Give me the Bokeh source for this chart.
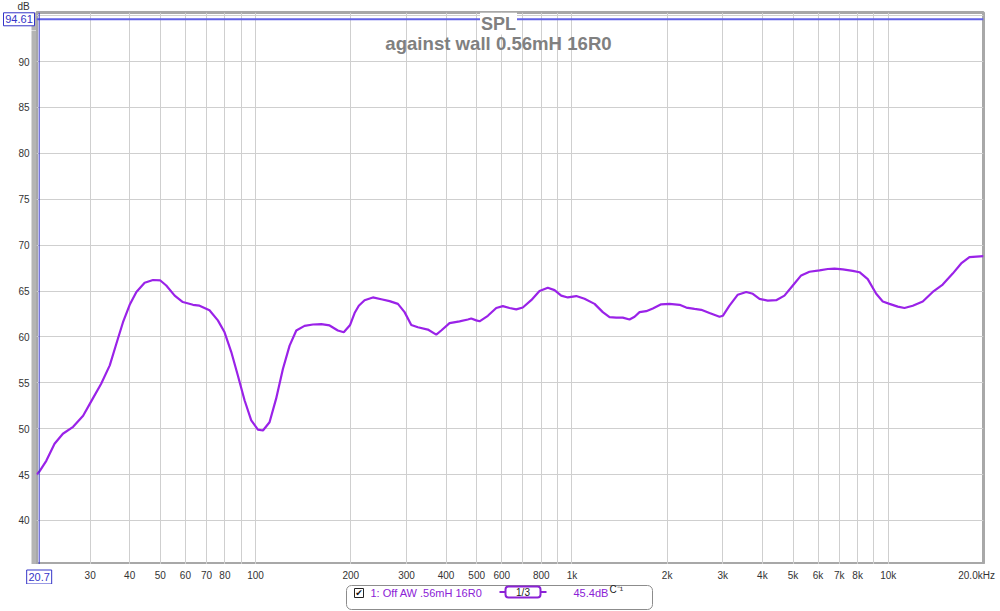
import math
from bokeh.plotting import figure
from bokeh.models import Range1d, FixedTicker, CustomJSTickFormatter, Span, Label, Grid
from bokeh.layouts import column, row
from bokeh.embed import file_html
from bokeh.resources import INLINE
from bokeh.core.properties import value

# ---------------- data ----------------
freq_hz = [20.3, 20.7, 21.8, 23.15, 24.6, 26.5, 28.5, 30.6, 32.5, 34.6, 36.3, 38.1,
           40.0, 42.0, 44.6, 47.4, 50.0, 52.2, 55.5, 58.9, 63.4, 66.5, 71.5, 76.0,
           79.8, 83.8, 87.9, 92.3, 96.9, 101.7, 105.5, 110.7, 116.2, 122.0, 128.1, 134.5,
           142.8, 151.8, 161.3, 171.4, 182.0, 190, 199, 205.6, 212, 221.1, 234.8, 249.6,
           265.2, 281.8, 295.8, 310.6, 325.9, 350.4, 372.5, 386.3, 410.4, 441.4, 468.8, 480.5,
           498.4, 510.5, 542.3, 576.5, 604.8, 635.0, 666.8, 699.5, 743.6, 789.9, 839.1, 881.0,
           925.1, 970.5, 1032, 1096, 1179, 1252, 1315, 1380, 1448, 1521, 1578, 1636,
           1717, 1802, 1915, 2034, 2189, 2298, 2441, 2563, 2722, 2928, 2999, 3148,
           3345, 3556, 3731, 3917, 4160, 4423, 4697, 4992, 5305, 5636, 6061, 6441,
           6761, 7181, 7723, 8110, 8613, 9159, 9608, 10087, 10715, 11251, 11952, 12853,
           13822, 14864, 15985, 16999, 18054, 20000]
spl_db = [45.0, 45.3, 46.5, 48.35, 49.45, 50.2, 51.4, 53.3, 54.9, 56.9, 59.25, 61.6,
          63.5, 64.9, 65.9, 66.2, 66.15, 65.6, 64.5, 63.8, 63.5, 63.4, 62.9, 61.8,
          60.5, 58.35, 55.8, 53.1, 50.9, 49.9, 49.8, 50.7, 53.3, 56.5, 59.05, 60.7,
          61.2, 61.35, 61.4, 61.25, 60.7, 60.5, 61.3, 62.6, 63.4, 64.0, 64.3, 64.1,
          63.9, 63.6, 62.7, 61.3, 61.05, 60.8, 60.25, 60.7, 61.5, 61.7, 61.9, 62.0,
          61.8, 61.7, 62.3, 63.15, 63.35, 63.15, 63.0, 63.2, 64.0, 65.0, 65.35, 65.1,
          64.5, 64.3, 64.45, 64.15, 63.6, 62.7, 62.15, 62.1, 62.1, 61.9, 62.2, 62.7,
          62.8, 63.1, 63.55, 63.6, 63.5, 63.2, 63.05, 62.95, 62.6, 62.2, 62.3, 63.4,
          64.6, 64.9, 64.7, 64.15, 63.95, 64.0, 64.5, 65.6, 66.7, 67.1, 67.25, 67.4,
          67.45, 67.35, 67.2, 67.05, 66.3, 64.7, 63.85, 63.6, 63.3, 63.15, 63.4, 63.85,
          64.9, 65.7, 66.9, 68.0, 68.7, 68.8]

x_label_ticks = [30, 40, 50, 60, 70, 80, 100, 200, 300, 400, 500, 600, 800,
                 1000, 2000, 3000, 4000, 5000, 6000, 7000, 8000, 10000, 20000]
x_grid_ticks = [30, 40, 50, 60, 70, 80, 90, 100, 200, 300, 400, 500, 600, 700, 800, 900,
                1000, 2000, 3000, 4000, 5000, 6000, 7000, 8000, 9000, 10000, 20000]
x_end_label = "20.0kHz"
y_label_ticks = [40, 45, 50, 55, 60, 65, 70, 75, 80, 85, 90]
y_grid_ticks = [35, 40, 45, 50, 55, 60, 65, 70, 75, 80, 85, 90, 95]
y_unit = "dB"

cursor_freq = 20.7
cursor_level = 94.61
cursor_freq_text = "20.7"
cursor_level_text = "94.61"

title_text = "SPL"
subtitle_text = "against wall 0.56mH 16R0"
legend_name = "1: Off AW .56mH 16R0"
smoothing_text = "1/3"
level_text = "45.4dB"
unit_text = "C\u207b\u00b9"

# ---------------- geometry & style ----------------
FONT = "Liberation Sans"
GFONT = value("Liberation Sans")
CURVE = "#9a22e8"
LEGEND_PURPLE = "#8b22d6"
CURSOR_BLUE = "#3434c8"
GRID = "#cfcfcf"
AXIS_TEXT = "#333333"
FRAME_GRAY = "#b4b4b4"

W_TOTAL, H_TOTAL = 1000, 611
LEFT_W = 36          # plot frame left edge
FRAME_RIGHT = 983    # plot frame right edge
FRAME_TOP = 12
TOP_H = 564          # plot frame bottom edge
LT_H = 30            # top-left cell height
AX_H = 20            # x-axis strip height
LEG_H = H_TOTAL - TOP_H - AX_H
BL_W = 60

X0, X1 = 20.3, 20000
Y0, Y1 = 35.2, 95.35
ppd = (TOP_H - FRAME_TOP) / (Y1 - Y0)
ppdec = (FRAME_RIGHT - LEFT_W) / math.log10(X1 / X0)

def common(fig):
    fig.background_fill_color = "white"
    fig.border_fill_color = "white"
    fig.outline_line_color = None
    for g in fig.grid:
        g.visible = False

# ---------------- main plot ----------------
M_W = W_TOTAL - LEFT_W
p = figure(width=M_W, height=TOP_H, x_axis_type="log",
           x_range=Range1d(X0, X1), y_range=Range1d(Y0, Y1),
           x_axis_location=None, y_axis_location=None,
           output_backend="svg", toolbar_location=None,
           min_border_left=0, min_border_right=M_W - (FRAME_RIGHT - LEFT_W),
           min_border_top=FRAME_TOP, min_border_bottom=0)
common(p)
p.outline_line_color = "#a8a8a8"
p.outline_line_width = 3
p.add_layout(Grid(dimension=0, ticker=FixedTicker(ticks=x_grid_ticks),
                  grid_line_color=GRID, grid_line_width=1))
p.add_layout(Grid(dimension=1, ticker=FixedTicker(ticks=y_grid_ticks),
                  grid_line_color=GRID, grid_line_width=1))

p.line(freq_hz, spl_db, line_color=CURVE, line_width=2.2)

p.add_layout(Span(location=cursor_level, dimension="width", line_color="#6262e6", line_width=2))
p.add_layout(Span(location=cursor_freq, dimension="height", line_color=CURSOR_BLUE, line_width=1))

p.add_layout(Label(x=462, y=541, x_units="screen", y_units="screen", text=title_text,
                   text_font=FONT, text_font_size="18px", text_font_style="bold",
                   text_color="#808080", text_align="center", text_baseline="middle",
                   background_fill_color="white", padding=1))
p.add_layout(Label(x=462, y=521, x_units="screen", y_units="screen", text=subtitle_text,
                   text_font=FONT, text_font_size="18.6px", text_font_style="bold",
                   text_color="#808080", text_align="center", text_baseline="middle"))

# ---------------- top-left cell: unit + level cursor readout ----------------
lt_lo = Y1 - (LT_H - FRAME_TOP) / ppd
lt = figure(width=LEFT_W, height=LT_H, x_range=Range1d(0, LEFT_W),
            y_range=Range1d(lt_lo, Y1 + FRAME_TOP / ppd),
            x_axis_location=None, y_axis_location=None, output_backend="svg",
            toolbar_location=None, min_border_left=0, min_border_right=0,
            min_border_top=0, min_border_bottom=0)
common(lt)
lt.quad(left=[31], right=[LEFT_W], bottom=[lt_lo], top=[Y1], fill_color=FRAME_GRAY, line_color=None)
lt.text(x=[23], y=[Y1 + (FRAME_TOP - 6) / ppd], text=[y_unit], text_font=GFONT,
        text_font_size="10px", text_color=AXIS_TEXT, text_align="center", text_baseline="middle")
lt.rect(x=[18.5], y=[cursor_level], width=31, height=13, height_units="screen",
        fill_color="white", line_color=CURSOR_BLUE, line_width=1)
lt.text(x=[18.5], y=[cursor_level], text=[cursor_level_text], text_font=GFONT,
        text_font_size="11px", text_color=CURSOR_BLUE, text_align="center", text_baseline="middle")

# ---------------- left strip: y axis ----------------
lb = figure(width=LEFT_W, height=TOP_H - LT_H, x_range=Range1d(0, 1),
            y_range=Range1d(Y0, lt_lo), x_axis_location=None, y_axis_location="left",
            output_backend="svg", toolbar_location=None,
            min_border_left=31, min_border_right=0, min_border_top=0, min_border_bottom=0)
common(lb)
lb.background_fill_color = FRAME_GRAY
lb.yaxis.ticker = FixedTicker(ticks=y_label_ticks)
lb.yaxis.major_label_standoff = 2

# ---------------- bottom-left cell: frequency cursor readout ----------------
bl = figure(width=BL_W, height=AX_H, x_axis_type="log",
            x_range=Range1d(10 ** (math.log10(X0) - LEFT_W / ppdec),
                            10 ** (math.log10(X0) + (BL_W - LEFT_W) / ppdec)),
            y_range=Range1d(0, AX_H), x_axis_location=None, y_axis_location=None,
            output_backend="svg", toolbar_location=None, min_border_left=0,
            min_border_right=0, min_border_top=0, min_border_bottom=0)
common(bl)
bl.rect(x=[cursor_freq], y=[7.5], width=25, height=14, width_units="screen", height_units="screen",
        fill_color="white", line_color=CURSOR_BLUE, line_width=1)
bl.text(x=[cursor_freq], y=[7.5], text=[cursor_freq_text], text_font=GFONT,
        text_font_size="11px", text_color=CURSOR_BLUE, text_align="center", text_baseline="middle")

# ---------------- bottom strip: x axis ----------------
BA_W = W_TOTAL - BL_W
ba = figure(width=BA_W, height=AX_H, x_axis_type="log",
            x_range=Range1d(10 ** (math.log10(X0) + (BL_W - LEFT_W) / ppdec), X1),
            y_range=Range1d(0, 1), x_axis_location="below", y_axis_location=None,
            output_backend="svg", toolbar_location=None,
            min_border_left=0, min_border_right=BA_W - (FRAME_RIGHT - BL_W),
            min_border_top=0, min_border_bottom=AX_H - 2)
common(ba)
ba.xaxis.ticker = FixedTicker(ticks=x_label_ticks)
ba.xaxis.formatter = CustomJSTickFormatter(
    args=dict(end_label=x_end_label + "\u00a0\u00a0"),
    code="if (tick >= 20000) { return end_label; } return tick >= 1000 ? (tick/1000) + 'k' : String(tick);")
ba.xaxis.major_label_standoff = 3

for ax in (lb.yaxis, ba.xaxis):
    ax.axis_line_color = None
    ax.major_tick_line_color = None
    ax.minor_tick_line_color = None
    ax.major_tick_out = 0
    ax.major_tick_in = 0
    ax.major_label_text_font = FONT
    ax.major_label_text_font_size = "10px"
    ax.major_label_text_color = AXIS_TEXT

# ---------------- legend strip ----------------
leg = figure(width=W_TOTAL, height=LEG_H, x_range=Range1d(0, W_TOTAL), y_range=Range1d(0, LEG_H),
             output_backend="svg", toolbar_location=None,
             x_axis_location=None, y_axis_location=None, min_border_left=0,
             min_border_right=0, min_border_top=0, min_border_bottom=0)
common(leg)
leg.quad(left=[346], right=[652], bottom=[2], top=[26], fill_color="white",
         line_color="#8c8c8c", line_width=1, border_radius=5)
leg.quad(left=[354], right=[363], bottom=[14], top=[23], fill_color="white",
         line_color="#222222", line_width=1)
leg.text(x=[358.5], y=[18.5], text=["\u2714"], text_font=value("DejaVu Sans"),
         text_font_size="9px", text_color="#111111", text_align="center", text_baseline="middle")
leg.text(x=[370], y=[19], text=[legend_name], text_font=GFONT, text_font_size="11px",
         text_color=LEGEND_PURPLE, text_align="left", text_baseline="middle")
leg.segment(x0=[499, 540], y0=[19.5, 19.5], x1=[505, 546], y1=[19.5, 19.5],
            line_color=LEGEND_PURPLE, line_width=2)
leg.quad(left=[505], right=[540], bottom=[14], top=[25], fill_color="white",
         line_color=LEGEND_PURPLE, line_width=2, border_radius=3)
leg.text(x=[522.5], y=[19.5], text=[smoothing_text], text_font=GFONT, text_font_size="10px",
         text_color="#222222", text_align="center", text_baseline="middle")
leg.text(x=[573], y=[19], text=[level_text], text_font=GFONT, text_font_size="11px",
         text_color=LEGEND_PURPLE, text_align="left", text_baseline="middle")
leg.text(x=[609], y=[22], text=[unit_text], text_font=GFONT, text_font_size="10px",
         text_color="#222222", text_align="left", text_baseline="middle")

# Wrap each small figure in its own container so that sibling plots do not
# get their borders aligned with each other.
left_col = column(row(lt, spacing=0), row(lb, spacing=0), spacing=0)
top_row = row(left_col, column(p, spacing=0), spacing=0)
bottom_row = row(column(bl, spacing=0), column(ba, spacing=0), spacing=0)
layout = column(top_row, bottom_row, row(leg, spacing=0), spacing=0)
open("out.html", "w").write(file_html(layout, INLINE))
